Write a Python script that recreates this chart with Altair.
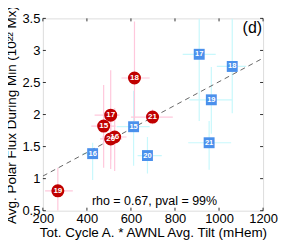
import altair as alt
import pandas as pd

# Red series (circles)
red_lbl = ["19", "18", "17", "15", "20", "16", "21"]
red_x = [268, 616, 508, 476, 508, 526, 698]
red_y = [0.81, 2.57, 1.99, 1.82, 1.62, 1.65, 1.96]
red_xlo = [210, 557, 435, 420, 460, 470, 600]
red_xhi = [336, 685, 548, 530, 560, 580, 790]
red_ylo = [0.5, 1.90, 1.30, 1.17, 1.15, 1.12, 1.85]
red_yhi = [1.17, 3.45, 2.69, 2.46, 2.05, 2.10, 2.08]

# Blue series (squares)
blu_lbl = ["16", "15", "20", "17", "18", "19", "21"]
blu_x = [426, 612, 675, 910, 1060, 965, 955]
blu_y = [1.39, 1.81, 1.36, 2.94, 2.75, 2.23, 1.56]
blu_xlo = [380, 535, 630, 835, 990, 865, 860]
blu_xhi = [450, 685, 740, 985, 1123, 1060, 1055]
blu_ylo = [0.98, 1.20, 1.08, 1.90, 2.02, 1.70, 1.14]
blu_yhi = [1.56, 2.37, 1.65, 3.50, 3.50, 2.74, 1.90]

# Regression line endpoints
fit_x = [200, 1200]
fit_y = [1.04, 2.88]

x_ticks = [200, 400, 600, 800, 1000, 1200]
y_ticks = [0.5, 1, 1.5, 2, 2.5, 3, 3.5]

W, H = 221, 193
FONT = "Liberation Sans"

red = pd.DataFrame(dict(lbl=red_lbl, x=red_x, y=red_y, xlo=red_xlo, xhi=red_xhi, ylo=red_ylo, yhi=red_yhi))
blu = pd.DataFrame(dict(lbl=blu_lbl, x=blu_x, y=blu_y, xlo=blu_xlo, xhi=blu_xhi, ylo=blu_ylo, yhi=blu_yhi))
fit = pd.DataFrame(dict(x=fit_x, y=fit_y))
xt = pd.DataFrame(dict(v=x_ticks))
yt = pd.DataFrame(dict(v=y_ticks))

xs = alt.Scale(domain=[200, 1200], nice=False, zero=False)
ys = alt.Scale(domain=[0.5, 3.5], nice=False, zero=False)

xaxis = alt.Axis(values=x_ticks, format="d", title="Tot. Cycle A. * AWNL Avg. Tilt (mHem)",
                 grid=False, domain=False, ticks=False, labelPadding=2, titlePadding=0,
                 labelFontSize=13, titleFontSize=13.5, labelFont=FONT, titleFont=FONT,
                 labelColor="black", titleColor="black", titleFontWeight="normal",
                 labelFlush=False, labelOverlap=False)
yaxis = alt.Axis(values=y_ticks, labelExpr="format(datum.value, '.1~f')",
                 title="Avg. Polar Flux During Min (10²² Mx)",
                 grid=False, domain=False, ticks=False, labelPadding=3, titlePadding=3,
                 labelFontSize=13, titleFontSize=13.5, labelFont=FONT, titleFont=FONT,
                 labelColor="black", titleColor="black", titleFontWeight="normal",
                 labelFlush=False, labelOverlap=False)

base_r = alt.Chart(red)
base_b = alt.Chart(blu)

b_hbar = base_b.mark_rule(color="#c8f8fc", strokeWidth=1.2, clip=True).encode(
    x=alt.X("xlo:Q", scale=xs, axis=xaxis), x2="xhi:Q", y=alt.Y("y:Q", scale=ys, axis=yaxis))
b_vbar = base_b.mark_rule(color="#c8f8fc", strokeWidth=1.2, clip=True).encode(
    x=alt.X("x:Q", scale=xs, axis=xaxis), y=alt.Y("ylo:Q", scale=ys, axis=yaxis), y2="yhi:Q")
r_hbar = base_r.mark_rule(color="#ffc8dc", strokeWidth=1.2, clip=True).encode(
    x=alt.X("xlo:Q", scale=xs, axis=xaxis), x2="xhi:Q", y=alt.Y("y:Q", scale=ys, axis=yaxis))
r_vbar = base_r.mark_rule(color="#ffc8dc", strokeWidth=1.2, clip=True).encode(
    x=alt.X("x:Q", scale=xs, axis=xaxis), y=alt.Y("ylo:Q", scale=ys, axis=yaxis), y2="yhi:Q")

fit_line = alt.Chart(fit).mark_line(color="#555555", strokeDash=[5, 4], strokeWidth=0.9, clip=True).encode(
    x=alt.X("x:Q", scale=xs, axis=xaxis), y=alt.Y("y:Q", scale=ys, axis=yaxis))

b_pts = base_b.mark_square(size=120, color="#4a90ec", opacity=1).encode(
    x=alt.X("x:Q", scale=xs, axis=xaxis), y=alt.Y("y:Q", scale=ys, axis=yaxis))
b_txt = base_b.mark_text(color="white", fontSize=7.5, font=FONT, fontWeight="bold").encode(
    x=alt.X("x:Q", scale=xs, axis=xaxis), y=alt.Y("y:Q", scale=ys, axis=yaxis), text="lbl:N")
r_pts = base_r.mark_circle(size=170, color="#c00000", opacity=1).encode(
    x=alt.X("x:Q", scale=xs, axis=xaxis), y=alt.Y("y:Q", scale=ys, axis=yaxis))
r_txt = base_r.mark_text(color="white", fontSize=8, font=FONT, fontWeight="bold").encode(
    x=alt.X("x:Q", scale=xs, axis=xaxis), y=alt.Y("y:Q", scale=ys, axis=yaxis), text="lbl:N")

# inward ticks on all four sides
tk_b = alt.Chart(xt).mark_rule(color="black", strokeWidth=0.8).encode(
    x=alt.X("v:Q", scale=xs, axis=xaxis), y=alt.value(H), y2=alt.value(H - 3))
tk_t = alt.Chart(xt).mark_rule(color="black", strokeWidth=0.8).encode(
    x=alt.X("v:Q", scale=xs, axis=xaxis), y=alt.value(0), y2=alt.value(3))
tk_l = alt.Chart(yt).mark_rule(color="black", strokeWidth=0.8).encode(
    y=alt.Y("v:Q", scale=ys, axis=yaxis), x=alt.value(0), x2=alt.value(3))
tk_r = alt.Chart(yt).mark_rule(color="black", strokeWidth=0.8).encode(
    y=alt.Y("v:Q", scale=ys, axis=yaxis), x=alt.value(W), x2=alt.value(W - 3))

stat = alt.Chart(pd.DataFrame(dict(t=["rho = 0.67, pval = 99%"]))).mark_text(
    fontSize=12.5, font=FONT, color="black", align="center", baseline="bottom").encode(
    x=alt.value(112), y=alt.value(H - 3), text="t:N")
panel = alt.Chart(pd.DataFrame(dict(t=["(d)"]))).mark_text(
    fontSize=16, font=FONT, color="black", align="right", baseline="top").encode(
    x=alt.value(W - 1), y=alt.value(2), text="t:N")

chart = alt.layer(
    b_hbar, b_vbar, r_hbar, r_vbar, fit_line, b_pts, b_txt, r_pts, r_txt,
    tk_b, tk_t, tk_l, tk_r, stat, panel
).properties(
    width=W, height=H,
    autosize=alt.AutoSizeParams(type="none"),
    padding={"left": 35, "top": 10, "right": 20, "bottom": 32},
).configure_view(stroke="black", strokeWidth=1).configure_axis(
    labelOverlap=False).configure(background="white")

chart.save("out.html", embed_options={"renderer": "svg", "actions": False})
